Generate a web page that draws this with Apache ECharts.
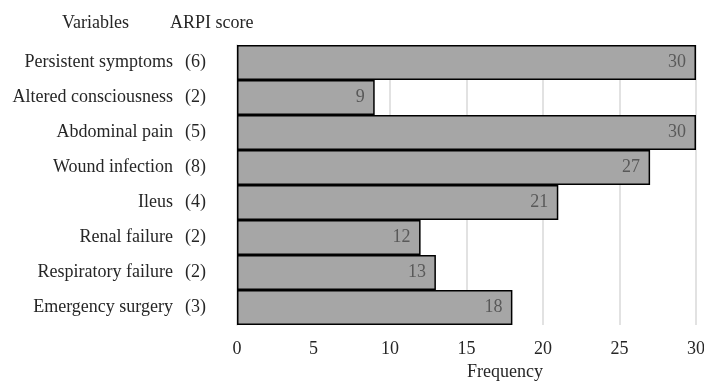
<!DOCTYPE html>
<html><head><meta charset="utf-8">
<script src="https://cdn.jsdelivr.net/npm/echarts@6/dist/echarts.min.js"></script>
<style>html,body{margin:0;padding:0;background:#fff}#c{width:704px;height:381px}</style>
</head><body><div id="c"></div>
<script>
const categories = ["Persistent symptoms","Altered consciousness","Abdominal pain","Wound infection","Ileus","Renal failure","Respiratory failure","Emergency surgery"];
const scores = ["(6)","(2)","(5)","(8)","(4)","(2)","(2)","(3)"];
const frequency = [30,9,30,27,21,12,13,18];
const xTicks = [0,5,10,15,20,25,30];

const chart = echarts.init(document.getElementById('c'), null, {renderer:'canvas'});
const font = '"Liberation Serif","Times New Roman",serif';
const fs = 18;
chart.setOption({
  animation:false,
  textStyle:{fontFamily:font},
  grid:{left:237,right:8,top:45,bottom:56,containLabel:false,outerBoundsMode:'none'},
  xAxis:{type:'value',min:0,max:30,interval:5,
    axisLine:{show:false},axisTick:{show:false},
    splitLine:{lineStyle:{color:'#d9d9d9',width:1.5}},
    axisLabel:{fontFamily:font,fontSize:fs,color:'#262626',margin:15,
      formatter:v=>xTicks.includes(v)?String(v):''}},
  yAxis:{type:'category',inverse:true,data:categories,
    axisLine:{show:true,lineStyle:{color:'#d9d9d9',width:1.5}},axisTick:{show:false},
    axisLabel:{margin:31,fontFamily:font,fontSize:fs,color:'#262626',
      formatter:(v,i)=>'{n|'+v+'}{s|'+scores[i]+'}',
      rich:{n:{fontFamily:font,fontSize:fs,color:'#262626'},
            s:{fontFamily:font,fontSize:fs,color:'#262626',width:33,align:'right'}}}},
  graphic:[
    {type:'text',left:62,top:14,style:{text:'Variables',font:fs+'px '+font,fill:'#262626'}},
    {type:'text',left:170,top:14,style:{text:'ARPI score',font:fs+'px '+font,fill:'#262626'}},
    {type:'text',left:467,top:363,style:{text:'Frequency',font:fs+'px '+font,fill:'#262626'}}
  ],
  series:[{type:'bar',data:frequency,barCategoryGap:'0%',
    itemStyle:{color:'#a6a6a6',borderColor:'#000',borderWidth:1.5},
    label:{show:true,position:'insideRight',distance:10,fontFamily:font,fontSize:fs,color:'#595959'}}]
});
</script></body></html>
